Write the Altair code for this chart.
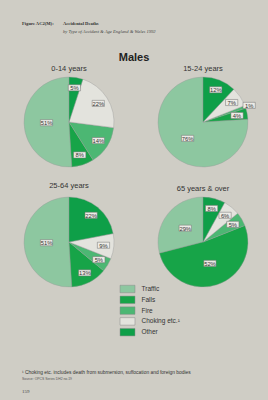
import altair as alt
import pandas as pd

# ---- data ----
ages = ["0-14 years", "15-24 years", "25-64 years", "65 years & over"]
types = ["Traffic", "Falls", "Fire", "Choking etc.¹", "Other"]
traffic = [51, 76, 51, 29]
falls = [8, 4, 13, 52]
fire = [14, 1, 5, 5]
choking = [22, 7, 9, 6]
other = [5, 12, 22, 8]
# clockwise order from 12 o'clock
slice_order = {"Other": 0, "Choking etc.¹": 1, "Fire": 2, "Falls": 3, "Traffic": 4}
colors = ["#8dc7a0", "#17a448", "#4cb773", "#e3e3dd", "#0e9f48"]

series = {"Traffic": traffic, "Falls": falls, "Fire": fire,
          "Choking etc.¹": choking, "Other": other}
rows = []
for i, a in enumerate(ages):
    for t in types:
        rows.append({"age": a, "type": t, "pct": series[t][i], "ord": slice_order[t]})
df = pd.DataFrame(rows)

R = 45
color = alt.Color("type:N", scale=alt.Scale(domain=types, range=colors),
                  legend=alt.Legend(title=None, orient="none", legendX=123.5, legendY=285,
                                    symbolType="M-2,-1L2,-1L2,1L-2,1Z",
                                    symbolSize=56, symbolStrokeColor="#8a8a8a",
                                    symbolStrokeWidth=0.5, symbolOpacity=1,
                                    labelFont="Liberation Sans", labelFontSize=6.5,
                                    labelColor="#333", labelOffset=10, rowPadding=0.8))

base = alt.Chart(df)


def pie(age, cx, cy, ty):
    sub = base.transform_filter(alt.datum.age == age)
    arc = sub.mark_arc(outerRadius=R, stroke="#9a9a9a", strokeWidth=0.4).encode(
        theta=alt.Theta("pct:Q", stack=True, scale=alt.Scale(domain=[0, 100])),
        order=alt.Order("ord:Q"),
        color=color,
        x=alt.value(cx), y=alt.value(cy),
    )
    lab = sub.transform_window(
        cum="sum(pct)", sort=[alt.SortField("ord")], frame=[None, 0]
    ).transform_calculate(
        mid="(datum.cum - datum.pct/2) / 100 * 2 * PI",
        rl=f"datum.pct >= 25 ? {R*0.5} : (datum.pct < 3 ? {R*1.09} : {R*0.77})",
        label="datum.pct + '%'",
    ).transform_calculate(
        lx=f"{cx} + datum.rl * sin(datum.mid)",
        ly=f"{cy} - datum.rl * cos(datum.mid)",
    )
    box = lab.mark_point(shape="M-1,-0.5L1,-0.5L1,0.5L-1,0.5Z", filled=True,
                         fill="#ecebe6", stroke="#707070", strokeWidth=0.5,
                         size=150, opacity=1).encode(
        x=alt.X("lx:Q", scale=None), y=alt.Y("ly:Q", scale=None))
    txt = lab.mark_text(font="Liberation Sans", fontSize=5.8, color="#333",
                        baseline="middle", dy=0.3).encode(
        x=alt.X("lx:Q", scale=None), y=alt.Y("ly:Q", scale=None), text="label:N")
    title = alt.Chart(pd.DataFrame({"t": [age]})).mark_text(
        font="Liberation Sans", fontSize=7.5, color="#333", baseline="alphabetic"
    ).encode(x=alt.value(cx), y=alt.value(ty), text="t:N")
    return [arc, box, txt, title]


def note(text, x, y, size, **kw):
    return alt.Chart(pd.DataFrame({"t": [text]})).mark_text(
        align="left", baseline="alphabetic", fontSize=size, **kw
    ).encode(x=alt.value(x), y=alt.value(y), text="t:N")


layers = []
layers += pie(ages[0], 69, 122, 71)
layers += pie(ages[1], 203, 122, 71)
layers += pie(ages[2], 69, 242, 188)
layers += pie(ages[3], 203, 242, 191)

layers += [
    note("Figure AC2(M):", 22, 25, 4.6, font="Liberation Serif", fontWeight="bold", color="#333"),
    note("Accidental Deaths", 63, 25, 4.6, font="Liberation Serif", fontWeight="bold", color="#333"),
    note("by Type of Accident & Age    England & Wales    1992", 63, 33, 4.6,
         font="Liberation Serif", fontStyle="italic", color="#444"),
    alt.Chart(pd.DataFrame({"t": ["Males"]})).mark_text(
        font="Liberation Sans", fontSize=11, fontWeight="bold", color="#222",
        baseline="alphabetic").encode(x=alt.value(134), y=alt.value(61), text="t:N"),
    note("¹ Choking etc. includes death from submersion, suffocation and foreign bodies",
         22, 374, 4.9, font="Liberation Sans", color="#333"),
    note("Source: OPCS Series DH2 no.19", 22, 380, 3.4, font="Liberation Sans", color="#555"),
    note("159", 22, 393, 5, font="Liberation Serif", color="#444"),
]

chart = alt.layer(*layers).properties(
    width=268, height=400, padding=0,
    autosize=alt.AutoSizeParams(type="none"),
).configure(background="#cfcdc5").configure_view(stroke=None)

chart.save("out.html", embed_options={"renderer": "svg", "actions": False})
